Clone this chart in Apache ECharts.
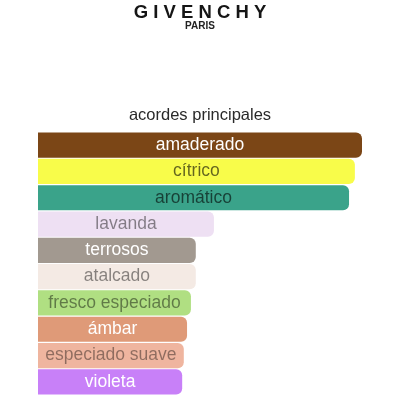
<!DOCTYPE html>
<html>
<head>
<meta charset="utf-8">
<script src="https://cdn.jsdelivr.net/npm/echarts@6/dist/echarts.min.js"></script>
<style>
  html, body { margin: 0; padding: 0; background: #fff; }
  #chart { width: 400px; height: 400px; }
</style>
</head>
<body>
<div id="chart"></div>
<script>
// acordes principales (ancho relativo, %)
var accords = ['amaderado', 'cítrico', 'aromático', 'lavanda', 'terrosos',
               'atalcado', 'fresco especiado', 'ámbar', 'especiado suave', 'violeta'];
var strength = [100, 97.8, 96, 54.3, 48.7, 48.7, 47.2, 46, 45, 44.5];
var barColors = ['#7b4616', '#f8fc4a', '#3aa38a', '#eee0f3', '#a29990',
                 '#f4eae4', '#b0df82', '#df9a78', '#efb59f', '#c880f8'];
var labelColors = ['#ffffff', 'rgba(0,0,0,0.6)', 'rgba(0,0,0,0.6)', 'rgba(0,0,0,0.45)', '#ffffff',
                   'rgba(0,0,0,0.45)', 'rgba(0,0,0,0.45)', '#ffffff', 'rgba(0,0,0,0.4)', '#ffffff'];

var chart = echarts.init(document.getElementById('chart'));

var barData = strength.map(function (v, i) {
    return {
        value: v,
        itemStyle: { color: barColors[i] },
        label: { color: labelColors[i] }
    };
});

var option = {
    animation: false,
    title: {
        text: 'acordes principales',
        left: 'center',
        top: 102,
        textStyle: { fontFamily: 'Liberation Sans', fontSize: 16.5, fontWeight: 'normal', color: '#2a2a2a' }
    },
    // logo
    graphic: [
        {
            type: 'text', left: 'center', top: 3,
            style: { text: 'G I V E N C H Y', font: '600 18.5px "Liberation Sans"', fill: '#151515' }
        },
        {
            type: 'text', left: 'center', top: 21,
            style: { text: 'PARIS', font: '600 10px "Liberation Sans"', fill: '#222' }
        }
    ],
    grid: { left: 38, right: 38, top: 132, bottom: 5 },
    xAxis: { type: 'value', min: 0, max: 100, show: false },
    yAxis: { type: 'category', data: accords, inverse: true, show: false },
    series: [{
        type: 'bar',
        data: barData,
        barCategoryGap: '4%',
        itemStyle: { borderRadius: [0, 6, 6, 0] },
        label: {
            show: true,
            position: 'inside',
            formatter: function (p) { return p.name; },
            fontFamily: 'Liberation Sans',
            fontSize: 17.5
        }
    }]
};

chart.setOption(option);
window.onresize = chart.resize;
</script>
</body>
</html>
